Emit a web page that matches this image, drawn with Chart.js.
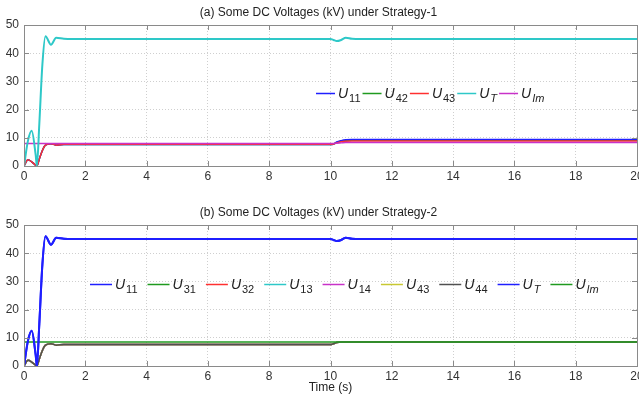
<!DOCTYPE html>
<html>
<head>
<meta charset="utf-8">
<script src="https://cdn.jsdelivr.net/npm/chart.js@4.4.0/dist/chart.umd.min.js"></script>
<style>
html, body { margin: 0; padding: 0; background: #fff; }
#wrapA { position: absolute; left: 0; top: 0; width: 639px; height: 200px; }
#wrapB { position: absolute; left: 0; top: 200px; width: 639px; height: 195px; }
</style>
</head>
<body>
<div id="wrapA"><canvas id="chartA"></canvas></div>
<div id="wrapB"><canvas id="chartB"></canvas></div>
<script>
// time samples (s), shared by all series
const time = [0, 0.13, 0.25, 0.38, 0.42, 0.5, 0.6, 0.7, 0.88, 1.05, 1.3, 1.6, 2, 10, 10.1, 10.2, 10.35, 10.5, 10.7, 11, 20]

// (a) Strategy-1 voltages, kV
const aU11 = [0, 2.2, 1.5, 0.3, 0, 2.5, 5.5, 7.4, 7.9, 7.4, 7.6, 7.6, 7.6, 7.6, 7.8, 8.5, 9.0, 9.3, 9.4, 9.4, 9.4]
const aU42 = [0, 2.2, 1.5, 0.3, 0, 2.5, 5.5, 7.4, 7.9, 7.4, 7.6, 7.6, 7.6, 7.6, 7.8, 8.3, 8.8, 9.0, 9.1, 9.1, 9.1]
const aU43 = [0, 2.2, 1.5, 0.3, 0, 2.5, 5.5, 7.4, 7.9, 7.4, 7.7, 7.7, 7.7, 7.7, 7.8, 8.2, 8.6, 8.8, 8.9, 8.9, 8.9]
const aUT = [0, 9, 12.5, 4, 0, 15, 36, 46, 43, 45.5, 45.1, 45, 45, 45, 44.7, 44.3, 44.7, 45.5, 45.1, 45, 45]
const aUIm = [8, 8, 8, 8, 8, 8, 8, 8, 8, 8, 8, 8, 8, 8, 8, 8.1, 8.2, 8.3, 8.3, 8.3, 8.3]

// (b) Strategy-2 voltages, kV
const bU11 = [0, 9, 12.5, 4, 0, 15, 36, 46, 43, 45.5, 45.1, 45, 45, 45, 44.7, 44.3, 44.7, 45.5, 45.1, 45, 45]
const bU31 = [0, 2, 1.4, 0.3, 0, 2.5, 5.5, 7.4, 7.9, 7.4, 7.6, 7.6, 7.6, 7.6, 7.9, 8.3, 8.5, 8.5, 8.5, 8.5, 8.5]
const bU32 = [0, 2, 1.4, 0.3, 0, 2.5, 5.5, 7.4, 7.9, 7.4, 7.6, 7.6, 7.6, 7.6, 7.9, 8.3, 8.5, 8.5, 8.5, 8.5, 8.5]
const bU13 = [0, 2, 1.4, 0.3, 0, 2.5, 5.5, 7.4, 7.9, 7.4, 7.6, 7.6, 7.6, 7.6, 7.9, 8.3, 8.5, 8.5, 8.5, 8.5, 8.5]
const bU14 = [0, 2, 1.4, 0.3, 0, 2.5, 5.5, 7.4, 7.9, 7.4, 7.6, 7.6, 7.6, 7.6, 7.9, 8.3, 8.5, 8.5, 8.5, 8.5, 8.5]
const bU43 = [0, 2, 1.4, 0.3, 0, 2.5, 5.5, 7.4, 7.9, 7.4, 7.6, 7.6, 7.6, 7.6, 7.9, 8.3, 8.5, 8.5, 8.5, 8.5, 8.5]
const bU44 = [0, 2, 1.4, 0.3, 0, 2.5, 5.5, 7.4, 7.9, 7.4, 7.6, 7.6, 7.6, 7.6, 7.9, 8.3, 8.5, 8.5, 8.5, 8.5, 8.5]
const bUT = [0, 9, 12.5, 4, 0, 15, 36, 46, 43, 45.5, 45.1, 45, 45, 45, 44.7, 44.3, 44.7, 45.5, 45.1, 45, 45]
const bUIm = [8.5, 8.5, 8.5, 8.5, 8.5, 8.5, 8.5, 8.5, 8.5, 8.5, 8.5, 8.5, 8.5, 8.5, 8.5, 8.5, 8.5, 8.5, 8.5, 8.5, 8.5]

const xTicks = [0, 2, 4, 6, 8, 10, 12, 14, 16, 18, 20]
const yTicks = [0, 10, 20, 30, 40, 50]

const BLUE = '#1f1fff'
const GREEN = '#1f9a1f'
const RED = '#ff3030'
const CYAN = '#2ec8c8'
const MAGENTA = '#c832c8'
const YELLOW = '#c8c832'
const GRAY = '#505050'
const FONT = 'Arial, "Liberation Sans", sans-serif'

// series: legend subscript, italic subscript?, colour, values, draw order
const seriesA = [
	{ sub: '11', it: false, color: BLUE, values: aU11, order: 3 },
	{ sub: '42', it: false, color: GREEN, values: aU42, order: 4 },
	{ sub: '43', it: false, color: RED, values: aU43, order: 2 },
	{ sub: 'T', it: true, color: CYAN, values: aUT, order: 0, width: 2 },
	{ sub: 'Im', it: true, color: MAGENTA, values: aUIm, order: 1 },
]
const seriesB = [
	{ sub: '11', it: false, color: BLUE, values: bU11, order: 0, width: 2 },
	{ sub: '31', it: false, color: GREEN, values: bU31, order: 8 },
	{ sub: '32', it: false, color: RED, values: bU32, order: 7 },
	{ sub: '13', it: false, color: CYAN, values: bU13, order: 6 },
	{ sub: '14', it: false, color: MAGENTA, values: bU14, order: 5 },
	{ sub: '43', it: false, color: YELLOW, values: bU43, order: 4 },
	{ sub: '44', it: false, color: GRAY, values: bU44, order: 3 },
	{ sub: 'T', it: true, color: BLUE, values: bUT, order: 1, width: 2 },
	{ sub: 'Im', it: true, color: GREEN, values: bUIm, order: 2 },
]

//box round the axes with inward ticks, like matlab
const boxPlugin = {
	id: 'axesBox',
	afterDatasetsDraw(chart) {
		const { ctx, chartArea: a, scales } = chart
		ctx.save()
		ctx.setLineDash([])
		ctx.strokeStyle = '#8a8a8a'
		ctx.lineWidth = 1
		ctx.strokeRect(Math.round(a.left) + 0.5, Math.round(a.top) + 0.5, Math.round(a.right - a.left), Math.round(a.bottom - a.top))
		ctx.beginPath()
		xTicks.forEach((t) => {
			const px = Math.round(scales.x.getPixelForValue(t)) + 0.5
			ctx.moveTo(px, a.bottom)
			ctx.lineTo(px, a.bottom - 5)
			ctx.moveTo(px, a.top)
			ctx.lineTo(px, a.top + 5)
		})
		yTicks.forEach((v) => {
			const py = Math.round(scales.y.getPixelForValue(v)) + 0.5
			ctx.moveTo(a.left, py)
			ctx.lineTo(a.left + 5, py)
			ctx.moveTo(a.right, py)
			ctx.lineTo(a.right - 5, py)
		})
		ctx.stroke()
		ctx.restore()
	},
}

// legend with subscripts, drawn inside the plot
const subLegendPlugin = {
	id: 'subLegend',
	afterDraw(chart, args, opts) {
		const { ctx, chartArea: a } = chart
		let x = a.left + opts.x
		const y = a.top + opts.y
		ctx.save()
		ctx.textBaseline = 'alphabetic'
		ctx.textAlign = 'left'
		opts.items.forEach((s) => {
			ctx.strokeStyle = s.color
			ctx.lineWidth = 1.5
			ctx.beginPath()
			ctx.moveTo(x, y + 0.5)
			ctx.lineTo(x + opts.lineLen, y + 0.5)
			ctx.stroke()
			x += opts.lineLen + 3
			ctx.fillStyle = '#222'
			ctx.font = 'italic 14px ' + FONT
			ctx.fillText('U', x, y + 5)
			x += ctx.measureText('U').width + 1
			ctx.font = (s.it ? 'italic ' : '') + '11px ' + FONT
			ctx.fillText(s.sub, x, y + 9)
			x += ctx.measureText(s.sub).width + opts.after
		})
		ctx.restore()
	},
}

function makeChart(id, titleText, series, legend, xAxisTitle, xHeight) {
	return new Chart(document.getElementById(id), {
		type: 'line',
		data: {
			datasets: series.map((s) => ({
				label: 'U' + s.sub,
				data: time.map((t, i) => ({ x: t, y: s.values[i] })),
				borderColor: s.color,
				borderWidth: s.width || 1.5,
				pointRadius: 0,
				cubicInterpolationMode: 'monotone',
				order: s.order,
			})),
		},
		options: {
			responsive: true,
			maintainAspectRatio: false,
			animation: false,
			layout: { padding: { left: 0, right: 2, top: 0, bottom: 0 } },
			plugins: {
				legend: { display: false },
				tooltip: { enabled: false },
				title: {
					display: true,
					text: titleText,
					color: '#222',
					font: { family: FONT, size: 12, weight: 'normal' },
					padding: { top: 5, bottom: 5.6 },
				},
				subLegend: Object.assign({ items: series }, legend),
			},
			scales: {
				x: {
					type: 'linear',
					min: 0,
					max: 20,
					afterBuildTicks: (s) => { s.ticks = xTicks.map((v) => ({ value: v })) },
					afterFit: (s) => { s.height = xHeight; s.paddingLeft = 0; s.paddingRight = 0 },
					ticks: { color: '#333', padding: 3, maxRotation: 0, autoSkip: false, font: { family: FONT, size: 12 } },
					grid: { color: '#cfcfcf', drawTicks: false },
					border: { display: false, dash: [1, 2] },
					title: {
						display: !!xAxisTitle,
						text: xAxisTitle,
						color: '#222',
						padding: { top: 0, bottom: 0 },
						font: { family: FONT, size: 12 },
					},
				},
				y: {
					min: 0,
					max: 50,
					afterBuildTicks: (s) => { s.ticks = yTicks.map((v) => ({ value: v })) },
					afterFit: (s) => { s.width = 24; s.paddingTop = 0; s.paddingBottom = 0 },
					ticks: { color: '#333', padding: 5, font: { family: FONT, size: 12 } },
					grid: { color: '#cfcfcf', drawTicks: false },
					border: { display: false, dash: [1, 2] },
				},
			},
		},
		plugins: [boxPlugin, subLegendPlugin],
	})
}

makeChart('chartA', '(a) Some DC Voltages (kV) under Strategy-1', seriesA,
	{ x: 292, y: 68, lineLen: 19, after: 2 }, '', 34)
makeChart('chartB', '(b) Some DC Voltages (kV) under Strategy-2', seriesB,
	{ x: 66, y: 59, lineLen: 22, after: 10 }, 'Time (s)', 29)
</script>
</body>
</html>
